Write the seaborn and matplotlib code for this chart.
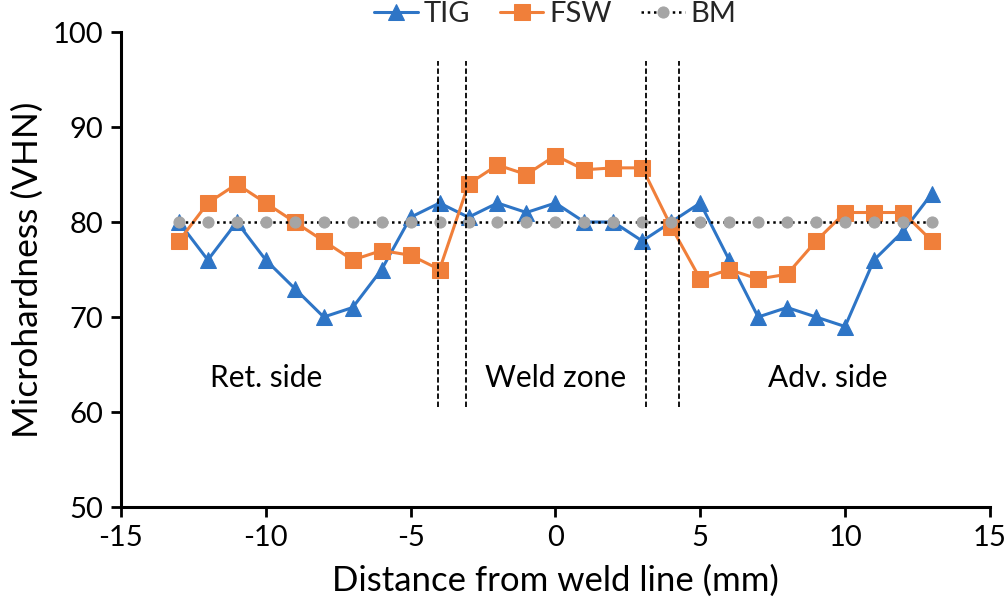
import matplotlib
matplotlib.use("Agg")
import matplotlib.pyplot as plt
import seaborn as sns
import pandas as pd

sns.set_theme(style="white")
plt.rcParams['font.family'] = ['Lato', 'DejaVu Sans']

x_pos = list(range(-13, 14))
tig = [80, 76, 80, 76, 73, 70, 71, 75, 80.5, 82, 80.5, 82, 81, 82, 80, 80, 78,
       80, 82, 76, 70, 71, 70, 69, 76, 79, 83]
fsw = [78, 82, 84, 82, 80, 78, 76, 77, 76.5, 75, 84, 86, 85, 87, 85.5, 85.7, 85.7,
       79.5, 74, 75, 74, 74.5, 78, 81, 81, 81, 78]
bm = [80] * len(x_pos)
zone_lines = [-4.07, -3.07, 3.14, 4.28]
zone_labels = ["Ret. side", "Weld zone", "Adv. side"]
zone_label_x = [-10, 0, 9.4]
x_ticks = [-15, -10, -5, 0, 5, 10, 15]
y_ticks = [50, 60, 70, 80, 90, 100]

fig = plt.figure(figsize=(10.08, 6.11), dpi=100)
ax = fig.add_axes([0.12, 0.1702, 0.862, 0.7774])

blue = "#2E75C6"
orange = "#F07F3A"
gray = "#A5A5A5"

sns.lineplot(x=x_pos, y=tig, ax=ax, color=blue, lw=2.2, marker="^", markersize=12,
             markeredgecolor=blue, label="TIG")
sns.lineplot(x=x_pos, y=fsw, ax=ax, color=orange, lw=2.2, marker="s", markersize=11,
             markeredgecolor=orange, label="FSW")
sns.lineplot(x=x_pos, y=bm, ax=ax, color="black", lw=1.8, linestyle=(0, (1, 1.5)),
             marker="o", markersize=8, markerfacecolor=gray, markeredgecolor=gray,
             label="BM")

for xv in zone_lines:
    ax.plot([xv, xv], [60.5, 97], color="black", lw=1.3, linestyle=(0, (3, 1.5)))

for lbl, xv in zip(zone_labels, zone_label_x):
    ax.text(xv, 63.6, lbl, ha="center", va="center", fontsize=21.5, color="black")

ax.set_xlim(-15, 15)
ax.set_ylim(50, 100)
ax.set_xticks(x_ticks)
ax.set_yticks(y_ticks)
ax.set_xticklabels([str(t) for t in x_ticks])
ax.set_yticklabels([str(t) for t in y_ticks])
ax.tick_params(axis="both", direction="out", length=7, width=2, labelsize=21,
               colors="black", bottom=True, left=True, pad=6)
for s in ["top", "right"]:
    ax.spines[s].set_visible(False)
for s in ["left", "bottom"]:
    ax.spines[s].set_color("black")
    ax.spines[s].set_linewidth(2.2)

ax.set_xlabel("Distance from weld line (mm)", fontsize=25, color="black", labelpad=10)
ax.set_ylabel("Microhardness (VHN)", fontsize=25.5, color="black", labelpad=6)

ax.legend(loc="lower center", bbox_to_anchor=(0.5, 0.985), ncol=3, frameon=False,
          fontsize=21, handlelength=1.5, columnspacing=1.0, handletextpad=0.2,
          borderaxespad=0)

fig.savefig("out.png", dpi=100)
